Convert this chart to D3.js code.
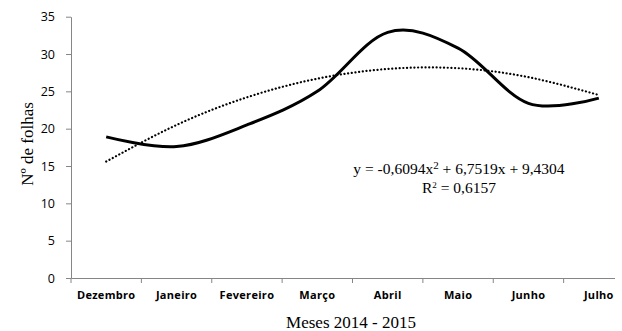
<!DOCTYPE html>
<html>
<head>
<meta charset="utf-8">
<script src="https://cdn.jsdelivr.net/npm/d3@7"></script>
<style>
  body { margin: 0; background: #fff; }
  svg { display: block; }
</style>
</head>
<body>
<script>
var width = 622;
var height = 331;

var months = ['Dezembro', 'Janeiro', 'Fevereiro', 'Março', 'Abril', 'Maio', 'Junho', 'Julho'];
var folhas = [18.9, 17.6, 20.5, 25.0, 32.9, 30.8, 23.4, 24.1];
var trend = [15.6, 20.5, 24.2, 26.7, 28.0, 28.1, 26.9, 24.5];
var yTicks = [0, 5, 10, 15, 20, 25, 30, 35];

var margin = {left: 71, top: 16.7, bottom: 53, right: -12};

var svg = d3.select('body').append('svg')
  .attr('width', width)
  .attr('height', height);

var x = d3.scaleBand()
  .domain(months)
  .range([margin.left, width - margin.right])
  .padding(0);

var y = d3.scaleLinear()
  .domain([0, 35])
  .range([height - margin.bottom, margin.top]);

svg.append('defs').append('clipPath')
  .attr('id', 'plotclip')
  .append('rect')
  .attr('x', 0).attr('y', 0)
  .attr('width', 615).attr('height', height);

var axisColor = '#868686';
var serif = '"Liberation Serif", "Times New Roman", serif';

// y axis
var yAxis = svg.append('g')
  .attr('transform', 'translate(' + margin.left + ',0)')
  .call(d3.axisLeft(y).tickValues(yTicks).tickSize(5).tickPadding(11).tickSizeOuter(0));
yAxis.select('.domain').attr('stroke', axisColor);
yAxis.selectAll('.tick line').attr('stroke', axisColor);
yAxis.selectAll('.tick text')
  .attr('fill', '#000')
  .style('font-family', '"Open Sans", "Liberation Sans", sans-serif')
  .style('font-size', '12.5px');

// x axis
var xAxisG = svg.append('g')
  .attr('clip-path', 'url(#plotclip)');
var xAxis = xAxisG.append('g')
  .attr('transform', 'translate(0,' + y(0) + ')')
  .call(d3.axisBottom(x).tickSize(0).tickPadding(13).tickSizeOuter(0));
xAxis.select('.domain').attr('stroke', axisColor);
xAxis.selectAll('.tick text')
  .attr('fill', '#000')
  .style('font-family', '"Open Sans", "Liberation Sans", sans-serif')
  .style('font-size', '11px')
  .style('font-weight', '700')
  .style('letter-spacing', '0.3px');

xAxisG.selectAll('.boundTick')
  .data(months)
  .enter().append('line')
  .attr('class', 'boundTick')
  .attr('x1', d => x(d)).attr('x2', d => x(d))
  .attr('y1', y(0)).attr('y2', y(0) + 5)
  .attr('stroke', axisColor);

var px = (d, i) => x(months[i]) + x.bandwidth() / 2;

// trend line
svg.append('path')
  .datum(trend)
  .attr('fill', 'none')
  .attr('stroke', '#000')
  .attr('stroke-width', 2.2)
  .attr('stroke-linecap', 'round')
  .attr('stroke-dasharray', '0.1,3.6')
  .attr('d', d3.line().x(px).y(d => y(d)).curve(d3.curveNatural));

// data line
svg.append('path')
  .datum(folhas)
  .attr('fill', 'none')
  .attr('stroke', '#000')
  .attr('stroke-width', 3)
  .attr('stroke-linejoin', 'round')
  .attr('d', d3.line().x(px).y(d => y(d)).curve(d3.curveCardinal.tension(0)));

// equation
var eq = svg.append('text')
  .attr('x', 459).attr('y', 174)
  .attr('text-anchor', 'middle')
  .style('font-family', serif)
  .style('font-size', '15.5px');
eq.append('tspan').text('y = -0,6094x');
eq.append('tspan').attr('dy', -5).style('font-size', '11px').text('2');
eq.append('tspan').attr('dy', 5).text(' + 6,7519x + 9,4304');

var r2 = svg.append('text')
  .attr('x', 459).attr('y', 193)
  .attr('text-anchor', 'middle')
  .style('font-family', serif)
  .style('font-size', '15.5px');
r2.append('tspan').text('R');
r2.append('tspan').attr('dy', -5).style('font-size', '9px').text('2');
r2.append('tspan').attr('dy', 5).text(' = 0,6157');

// axis titles
svg.append('text')
  .attr('transform', 'translate(33,144) rotate(-90)')
  .attr('text-anchor', 'middle')
  .style('font-family', serif)
  .style('font-size', '17px')
  .text('Nº de folhas');

svg.append('text')
  .attr('x', 351).attr('y', 328)
  .attr('text-anchor', 'middle')
  .style('font-family', serif)
  .style('font-size', '17px')
  .text('Meses 2014 - 2015');
</script>
</body>
</html>
